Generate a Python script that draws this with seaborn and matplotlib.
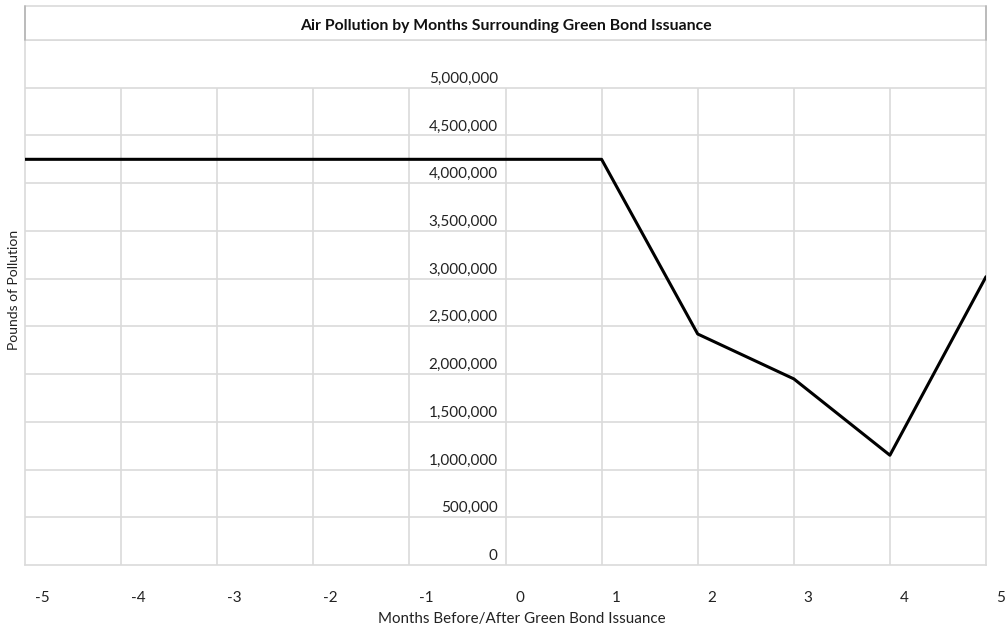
import matplotlib
matplotlib.use("Agg")
import matplotlib.pyplot as plt
import matplotlib.transforms as mtransforms
from matplotlib.patches import Rectangle
from matplotlib.lines import Line2D
from matplotlib.ticker import FuncFormatter
import pandas as pd
import seaborn as sns

# Monthly pollution around the issuance date
months = [-5, -4, -3, -2, -1, 0, 1, 2, 3, 4, 5]
pollution = [4250000, 4250000, 4250000, 4250000, 4250000, 4250000, 4250000,
             2420000, 1950000, 1150000, 3020000]
y_ticks = [0, 500000, 1000000, 1500000, 2000000, 2500000,
           3000000, 3500000, 4000000, 4500000, 5000000]
x_tick_labels = ["-5", "-4", "-3", "-2", "-1", "0", "1", "2", "3", "4", "5"]

title = "Air Pollution by Months Surrounding Green Bond Issuance"
x_label = "Months Before/After Green Bond Issuance"
y_label = "Pounds of Pollution"

sns.set_theme(style="white")
plt.rcParams["font.family"] = ["Lato", "DejaVu Sans"]

W, H = 1005, 629
fig = plt.figure(figsize=(W / 100, H / 100), dpi=100)
fig.patch.set_facecolor("white")

# plot frame in pixel units
L, R, T, B = 25, 986, 40, 565
TITLE_TOP = 6
ax = fig.add_axes([L / W, 1 - B / H, (R - L) / W, (B - T) / H])

grid_color = "#dadada"
grid_lw = 1.2
text_color = "#222222"

df = pd.DataFrame({"month": months, "pollution": pollution})
sns.lineplot(data=df, x="month", y="pollution", ax=ax, color="black",
             linewidth=2.2, zorder=5)

ax.set_xlim(months[0], months[-1])
ax.set_ylim(0, y_ticks[-1] + (y_ticks[1] - y_ticks[0]))

# cell grid: vertical lines stop at the top tick, horizontal ones run full width
ax.vlines(months[1:-1], 0, y_ticks[-1], color=grid_color, lw=grid_lw, zorder=1)
ax.hlines(y_ticks[1:], months[0], months[-1], color=grid_color, lw=grid_lw, zorder=1)

for s in ax.spines.values():
    s.set_color(grid_color)
    s.set_linewidth(grid_lw)

# y tick labels sit on the zero-month column
ax.spines["left"].set_position(("data", 0))
ax.spines["left"].set_visible(False)
ax.add_line(Line2D([0, 0], [0, 1], transform=ax.transAxes, color=grid_color,
                   lw=grid_lw, clip_on=False, zorder=1))

ax.set_yticks(y_ticks)
ax.yaxis.set_major_formatter(FuncFormatter(lambda v, p: f"{v:,.0f}"))
ax.tick_params(axis="y", length=0, pad=5.5, labelsize=11, labelcolor=text_color)
up = mtransforms.ScaledTranslation(0, 5 / 100, fig.dpi_scale_trans)
for lab in ax.get_yticklabels():
    lab.set_verticalalignment("baseline")
    lab.set_transform(lab.get_transform() + up)

ax.set_xticks(months)
ax.set_xticklabels(x_tick_labels)
ax.tick_params(axis="x", length=0, pad=19, labelsize=11, labelcolor=text_color)
right = mtransforms.ScaledTranslation(10 / 100, 0, fig.dpi_scale_trans)
for lab in ax.get_xticklabels():
    lab.set_horizontalalignment("left")
    lab.set_transform(lab.get_transform() + right)

ax.set_xlabel(x_label, fontsize=10.9, color=text_color)
ax.xaxis.set_label_coords((522 - L) / (R - L), (B - 612) / (B - T))
ax.set_ylabel(y_label, fontsize=10, color=text_color)
ax.yaxis.set_label_coords((20 - L) / (R - L), (B - 290) / (B - T))

# title box above the plot
fig.add_artist(Rectangle((L / W, 1 - T / H), (R - L) / W, (T - TITLE_TOP) / H,
                         transform=fig.transFigure, facecolor="white",
                         edgecolor=grid_color, lw=grid_lw))
for xp in (L, R):
    fig.add_artist(Line2D([xp / W, xp / W], [1 - T / H, 1 - TITLE_TOP / H],
                          transform=fig.transFigure, color="#b5b5b5", lw=grid_lw))
fig.text((L + R) / 2 / W, 1 - 26 / H, title, ha="center", va="center",
         fontsize=11.3, fontweight="bold", color="#111111")

fig.savefig("out.png", dpi=100, facecolor="white")
